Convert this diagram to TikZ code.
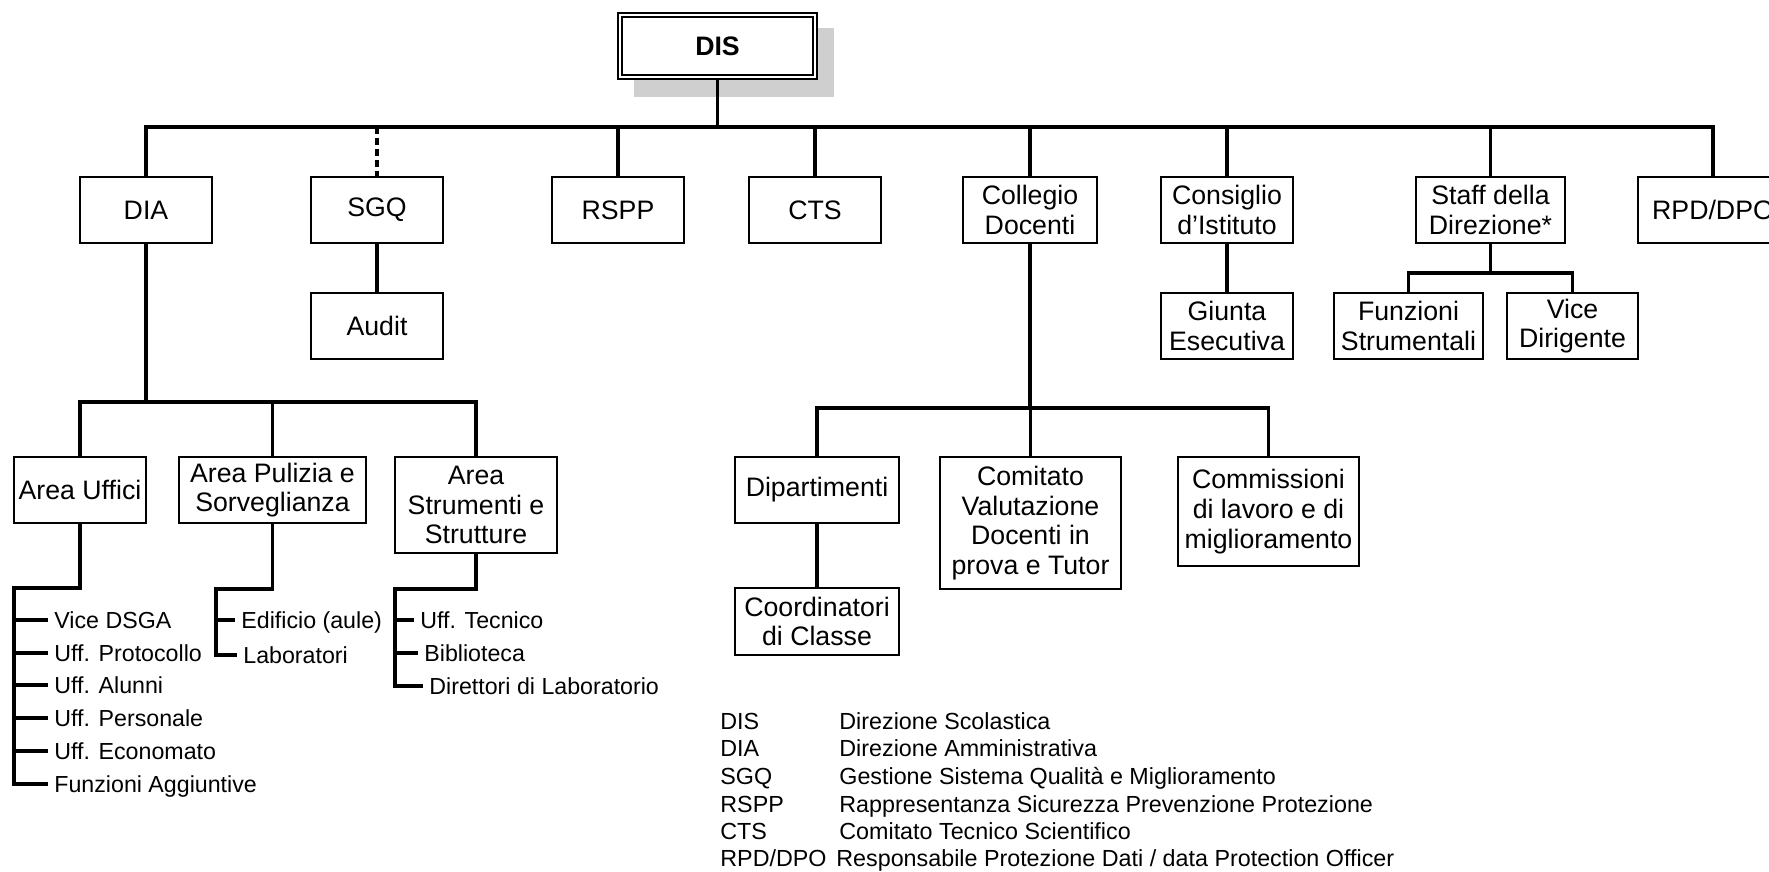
\documentclass[tikz,border=0pt]{standalone}
\usepackage{fontspec}
\setmainfont{Liberation Sans}
\definecolor{shadowgray}{HTML}{CFCFCF}
\newcommand{\boxfont}{\fontsize{13.35}{14.8}\selectfont}
\newcommand{\itemfont}{\fontsize{11.6}{13}\selectfont}
\newcommand{\legfont}{\fontsize{11.65}{13}\selectfont}
\begin{document}
\begin{tikzpicture}[x=0.5pt,y=-0.5pt,
  box/.style={draw=black, line width=0.9pt, fill=white, inner sep=1pt, align=center, font=\boxfont},
  conn/.style={line width=1.7pt, black},
  itm/.style={anchor=west, inner xsep=3pt, inner ysep=0pt, text height=8.3pt, text depth=0pt, font=\itemfont},
  leg/.style={anchor=west, inner sep=0pt, text height=8.35pt, text depth=0pt, font=\legfont}]
\useasboundingbox (0,0) rectangle (1769,872);
\clip (0,0) rectangle (1769,872);
\fill[white] (0,0) rectangle (1769,872);
% shadow of DIS
\fill[shadowgray] (634,28) rectangle (834,97);
% top node
\node[box, line width=1.3pt, minimum width=99.5pt, minimum height=33pt, font=\boxfont\bfseries] (dis) at (717.5,46) {DIS};
\draw[line width=0.65pt] ([shift={(2.6pt,-2.6pt)}]dis.north west) rectangle ([shift={(-2.6pt,2.6pt)}]dis.south east);
% level 1
\node[box, minimum width=66pt, minimum height=33pt] (dia) at (146,210) {DIA};
\node[box, minimum width=66pt, minimum height=33pt] (sgq) at (377,210) {SGQ};
\node[box, minimum width=66pt, minimum height=33pt] (rspp) at (618,210) {RSPP};
\node[box, minimum width=66pt, minimum height=33pt] (cts) at (815,210) {CTS};
\node[box, minimum width=67pt, minimum height=33pt] (coll) at (1030,210) {Collegio\\Docenti};
\node[box, minimum width=66pt, minimum height=33pt] (cons) at (1227,210) {Consiglio\\d’Istituto};
\node[box, minimum width=74.5pt, minimum height=33pt] (staff) at (1490.5,210) {Staff della\\Direzione*};
\node[box, minimum width=75pt, minimum height=33pt] (rpd) at (1713,210) {RPD/DPO};
% level 2
\node[box, minimum width=66pt, minimum height=33pt] (audit) at (377,326) {Audit};
\node[box, minimum width=66pt, minimum height=33pt] (giunta) at (1227,326) {Giunta\\Esecutiva};
\node[box, minimum width=74.5pt, minimum height=33pt] (funz) at (1408.5,326) {Funzioni\\Strumentali};
\node[box, minimum width=65.5pt, minimum height=33pt] (vice) at (1572.5,326) {Vice\\Dirigente};
% areas
\node[box, minimum width=66pt, minimum height=33pt] (uff) at (80,490) {Area Uffici};
\node[box, minimum width=93.5pt, minimum height=33pt] (pul) at (272.5,490) {Area Pulizia e\\Sorveglianza};
\node[box, minimum width=81pt, minimum height=48pt] (str) at (476,505) {Area\\Strumenti e\\Strutture};
% collegio subtree
\node[box, minimum width=82pt, minimum height=33pt] (dip) at (817,490) {Dipartimenti};
\node[box, minimum width=82pt, minimum height=33.5pt] (coord) at (817,621.5) {Coordinatori\\di Classe};
\node[box, minimum width=90.5pt, minimum height=66pt] (com) at (1030.5,523) {Comitato\\Valutazione\\Docenti in\\prova e Tutor};
\node[box, minimum width=90.5pt, minimum height=54.5pt] (cmm) at (1268.5,511.5) {Commissioni\\di lavoro e di\\miglioramento};
% item lists
\node[itm] (u1) at (48,620) {Vice DSGA};
\node[itm] (u2) at (48,653) {Uff. Protocollo};
\node[itm] (u3) at (48,685) {Uff. Alunni};
\node[itm] (u4) at (48,718) {Uff. Personale};
\node[itm] (u5) at (48,751) {Uff. Economato};
\node[itm] (u6) at (48,784) {Funzioni Aggiuntive};
\node[itm] (p1) at (235,620) {Edificio (aule)};
\node[itm] (p2) at (237,655) {Laboratori};
\node[itm] (s1) at (414,620) {Uff. Tecnico};
\node[itm] (s2) at (418,653) {Biblioteca};
\node[itm] (s3) at (423,686) {Direttori di Laboratorio};
% legend
\node[leg] (la1) at (720,721) {DIS};
\node[leg] (lb1) at (839,721) {Direzione Scolastica};
\node[leg] (la2) at (720,748) {DIA};
\node[leg] (lb2) at (839,748) {Direzione Amministrativa};
\node[leg] (la3) at (720,776) {SGQ};
\node[leg] (lb3) at (839,776) {Gestione Sistema Qualità e Miglioramento};
\node[leg] (la4) at (720,804) {RSPP};
\node[leg] (lb4) at (839,804) {Rappresentanza Sicurezza Prevenzione Protezione};
\node[leg] (la5) at (720,831.3) {CTS};
\node[leg] (lb5) at (839,831.3) {Comitato Tecnico Scientifico};
\node[leg] (la6) at (720,858.3) {RPD/DPO};
\node[leg] (lb6) at (836,858.3) {Responsabile Protezione Dati / data Protection Officer};
% bus coordinates
\coordinate (bus) at (0,127);
\coordinate (abus) at (0,402);
\coordinate (cbus) at (0,408);
\coordinate (sbus) at (0,273);
\coordinate (uc) at (14,588);
\coordinate (pc) at (216,589);
\coordinate (sc) at (395,589);
% connectors
\draw[conn] (dis.south) -- (dis.south |- bus);
\draw[conn] (dia.north) -- (dia.north |- bus) -- (rpd.north |- bus) -- (rpd.north);
\draw[conn, dash pattern=on 3.5pt off 2pt] (sgq.north |- bus) -- (sgq.north);
\foreach \n in {rspp,cts,coll,cons,staff}{\draw[conn] (\n.north) -- (\n.north |- bus);}
\draw[conn] (sgq.south) -- (audit.north);
\draw[conn] (cons.south) -- (giunta.north);
\draw[conn] (staff.south) -- (staff.south |- sbus);
\draw[conn] (funz.north) -- (funz.north |- sbus) -- (vice.north |- sbus) -- (vice.north);
\draw[conn] (dia.south) -- (dia.south |- abus);
\draw[conn] (uff.north) -- (uff.north |- abus) -- (str.north |- abus) -- (str.north);
\draw[conn] (pul.north) -- (pul.north |- abus);
\draw[conn] (coll.south) -- (coll.south |- cbus);
\draw[conn] (dip.north) -- (dip.north |- cbus) -- (cmm.north |- cbus) -- (cmm.north);
\draw[conn] (com.north) -- (com.north |- cbus);
\draw[conn] (dip.south) -- (coord.north);
% spines
\draw[conn] (uff.south) -- (uff.south |- uc) -- (uc) -- (uc |- u6.west) -- (u6.west);
\foreach \n in {u1,u2,u3,u4,u5}{\draw[conn] (uc |- \n.west) -- (\n.west);}
\draw[conn] (pul.south) -- (pul.south |- pc) -- (pc) -- (pc |- p2.west) -- (p2.west);
\draw[conn] (pc |- p1.west) -- (p1.west);
\draw[conn] (str.south) -- (str.south |- sc) -- (sc) -- (sc |- s3.west) -- (s3.west);
\foreach \n in {s1,s2}{\draw[conn] (sc |- \n.west) -- (\n.west);}
\end{tikzpicture}
\end{document}
